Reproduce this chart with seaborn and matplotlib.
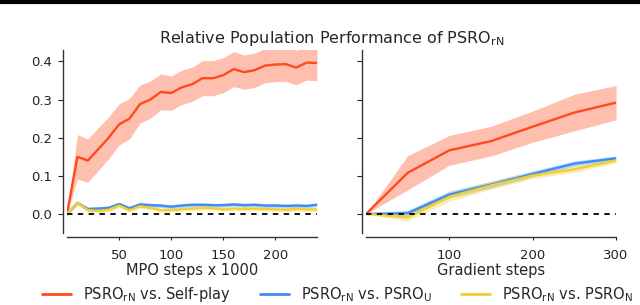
import numpy as np
import matplotlib
matplotlib.use("Agg")
import matplotlib.pyplot as plt
import seaborn as sns
from matplotlib.lines import Line2D

# left panel: MPO steps x 1000
mpo_steps = [0, 10, 20, 30, 40, 50, 60, 70, 80, 90, 100, 110, 120, 130, 140,
             150, 160, 170, 180, 190, 200, 210, 220, 230, 240]
mpo_selfplay = [0.0, 0.150, 0.140, 0.170, 0.200, 0.235, 0.250, 0.288, 0.300, 0.320,
                0.317, 0.332, 0.340, 0.356, 0.356, 0.364, 0.380, 0.372, 0.377, 0.389,
                0.392, 0.393, 0.384, 0.397, 0.396]
mpo_selfplay_err = [0.0, 0.058, 0.057, 0.056, 0.055, 0.054, 0.053, 0.050, 0.049, 0.047,
                    0.045, 0.045, 0.045, 0.046, 0.046, 0.046, 0.046, 0.045, 0.045, 0.045,
                    0.045, 0.045, 0.045, 0.046, 0.047]
mpo_u = [0.0, 0.029, 0.013, 0.014, 0.016, 0.026, 0.015, 0.025, 0.023, 0.022,
         0.019, 0.022, 0.024, 0.024, 0.023, 0.023, 0.025, 0.023, 0.024, 0.022,
         0.022, 0.021, 0.022, 0.021, 0.024]
mpo_n = [0.0, 0.029, 0.010, 0.008, 0.011, 0.022, 0.010, 0.020, 0.016, 0.010,
         0.010, 0.012, 0.014, 0.016, 0.015, 0.012, 0.014, 0.013, 0.014, 0.013,
         0.012, 0.011, 0.013, 0.012, 0.012]
mpo_small_err = 0.005

# right panel: gradient steps
grad_steps = [0, 50, 100, 150, 200, 250, 300]
grad_selfplay = [0.0, 0.108, 0.167, 0.191, 0.229, 0.266, 0.292]
grad_selfplay_err = [0.0, 0.045, 0.039, 0.039, 0.041, 0.048, 0.045]
grad_u = [0.0, 0.002, 0.051, 0.077, 0.105, 0.132, 0.146]
grad_u_err = [0.0, 0.008, 0.009, 0.009, 0.008, 0.007, 0.006]
grad_n = [0.0, -0.009, 0.045, 0.075, 0.101, 0.117, 0.140]
grad_n_err = [0.0, 0.010, 0.012, 0.010, 0.008, 0.008, 0.006]

labels = [r"PSRO$_{\mathregular{rN}}$ vs. Self-play",
          r"PSRO$_{\mathregular{rN}}$ vs. PSRO$_{\mathregular{U}}$",
          r"PSRO$_{\mathregular{rN}}$ vs. PSRO$_{\mathregular{N}}$"]
colors = ["#ff4a1a", "#3d8ef0", "#f2cf33"]

sns.set_style("ticks")
plt.rcParams["font.family"] = ["DejaVu Sans"]

fig = plt.figure(figsize=(6.4, 3.05), dpi=100)
ax1 = fig.add_axes([0.1047, 0.236, 0.3906, 0.6])
ax2 = fig.add_axes([0.572, 0.236, 0.3906, 0.6], sharey=ax1)


def draw(ax, x, series):
    for (y, err), c in zip(series, colors):
        y = np.array(y)
        err = np.array(err)
        ax.fill_between(x, y - err, y + err, color=c, alpha=0.35, lw=0)
        sns.lineplot(x=x, y=y, color=c, lw=1.7, ax=ax)
    ax.axhline(0, color="black", ls="--", lw=1.3, dashes=(3, 3))


draw(ax1, mpo_steps, [(mpo_selfplay, mpo_selfplay_err),
                      (mpo_u, [mpo_small_err] * len(mpo_u)),
                      (mpo_n, [mpo_small_err] * len(mpo_n))])
draw(ax2, grad_steps, [(grad_selfplay, grad_selfplay_err),
                       (grad_u, grad_u_err),
                       (grad_n, grad_n_err)])

ax1.set_xlim(0, 240)
ax2.set_xlim(0, 300)
ax1.set_ylim(-0.05, 0.43)
ax1.set_xticks([50, 100, 150, 200])
ax2.set_xticks([100, 200, 300])
ax1.set_yticks([0.0, 0.1, 0.2, 0.3, 0.4])
ax2.tick_params(labelleft=False)
ax1.set_xlabel("MPO steps x 1000", fontsize=10.5, labelpad=1)
ax2.set_xlabel("Gradient steps", fontsize=10.5, labelpad=1)
for ax in (ax1, ax2):
    ax.tick_params(labelsize=9.5, width=0.8, colors="#222222")
    ax.tick_params(axis="y", length=3.5, pad=4)
    ax.tick_params(axis="x", length=2.5, pad=6)
    for s in ax.spines.values():
        s.set_linewidth(1.0)
        s.set_color("#333333")
sns.despine(fig=fig, offset=3)

fig.text(0.519, 0.875, r"Relative Population Performance of PSRO$_{\mathregular{rN}}$",
         ha="center", va="center", fontsize=11.5)

handles = [Line2D([], [], color=c, lw=2) for c in colors]
fig.legend(handles, labels, loc="center", ncol=3, frameon=False, fontsize=10.5,
           bbox_to_anchor=(0.527, 0.033), columnspacing=2.0, handlelength=2.0,
           borderpad=0.2)

fig.add_artist(Line2D([0, 1], [0.993, 0.993], color="black", lw=3,
                      transform=fig.transFigure))

fig.savefig("out.png", dpi=100)
